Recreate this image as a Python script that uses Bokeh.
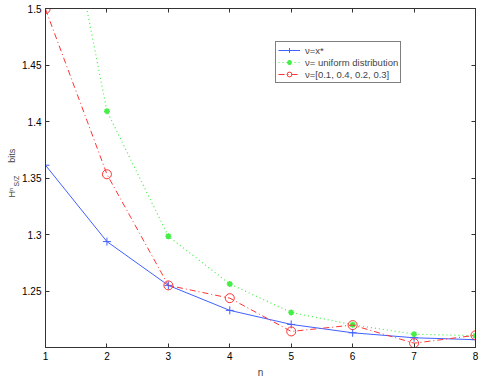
from bokeh.plotting import figure
from bokeh.models import (FixedTicker, LinearAxis, Range1d, Legend, LegendItem, Title)
from bokeh.embed import file_html
from bokeh.resources import INLINE

# ---- data ----
n = [1, 2, 3, 4, 5, 6, 7, 8]
v_xstar = [1.3615, 1.294, 1.2553, 1.2332, 1.2208, 1.2134, 1.2090, 1.2073]
v_uniform = [1.685, 1.4093, 1.2987, 1.2565, 1.2314, 1.2205, 1.2122, 1.2108]
v_fixed = [1.4995, 1.3535, 1.2553, 1.2440, 1.2146, 1.2202, 1.2042, 1.2112]
labels = ["\u03bd=x*", "\u03bd= uniform distribution", "\u03bd=[0.1, 0.4, 0.2, 0.3]"]
y_ticks = [1.25, 1.3, 1.35, 1.4, 1.45, 1.5]
y_tick_labels = {1.25: "1.25", 1.3: "1.3", 1.35: "1.35", 1.4: "1.4", 1.45: "1.45", 1.5: "1.5"}
x_ticks = [1, 2, 3, 4, 5, 6, 7, 8]

FONT = "Liberation Sans"
AX = "#333333"

p = figure(width=485, height=383, output_backend="svg", toolbar_location=None,
           x_range=Range1d(1, 8), y_range=Range1d(1.2004, 1.5),
           min_border_left=45, min_border_right=10, min_border_top=8, min_border_bottom=36,
           x_axis_label="n")
p.grid.visible = False
p.outline_line_color = "#222222"
p.outline_line_width = 1
p.background_fill_color = "white"
p.border_fill_color = "white"

xa = p.below[0]
ya = p.left[0]
xa.ticker = FixedTicker(ticks=x_ticks)
ya.ticker = FixedTicker(ticks=y_ticks)
ya.major_label_overrides = y_tick_labels

top = LinearAxis(ticker=FixedTicker(ticks=x_ticks),
                 major_label_overrides={t: "" for t in x_ticks})
right = LinearAxis(ticker=FixedTicker(ticks=y_ticks),
                   major_label_overrides={t: "" for t in y_ticks})
p.add_layout(top, "above")
p.add_layout(right, "right")

for ax in [xa, ya, top, right]:
    ax.major_tick_in = 4
    ax.major_tick_out = 0
    ax.minor_tick_in = 0
    ax.minor_tick_out = 0
    ax.axis_line_color = AX
    ax.major_tick_line_color = AX
    ax.major_label_text_font = FONT
    ax.major_label_text_color = "black"
    ax.axis_label_text_font = FONT
    ax.axis_label_text_font_style = "normal"
    ax.axis_label_text_font_size = "10px"
    ax.major_label_text_font_size = "10px"
ya.major_label_standoff = 4
xa.major_label_standoff = 4
xa.axis_label_standoff = 4
top.major_label_standoff = 0
right.major_label_standoff = 0

BLUE = "#4060ff"
GREEN = "#44ee44"
RED = "#ff3333"

l1 = p.line(n, v_xstar, line_color=BLUE, line_width=1)
s1 = p.scatter(n, v_xstar, marker="cross", size=8, line_color=BLUE, line_width=1)
l2 = p.line(n, v_uniform, line_color=GREEN, line_width=1.2, line_dash="1 3")
s2 = p.scatter(n, v_uniform, marker="asterisk", size=6, line_color=GREEN, line_width=1.5)
l3 = p.line(n, v_fixed, line_color=RED, line_width=1, line_dash="6 3 1 3")
s3 = p.scatter(n, v_fixed, marker="circle", size=9, line_color=RED, fill_color=None, line_width=1)

legend = Legend(items=[LegendItem(label=labels[0], renderers=[l1, s1]),
                       LegendItem(label=labels[1], renderers=[l2, s2]),
                       LegendItem(label=labels[2], renderers=[l3, s3])],
                location=(230, 264))
legend.label_text_font = FONT
legend.label_text_font_size = "9.5px"
legend.label_height = 12
legend.glyph_height = 12
legend.glyph_width = 22
legend.label_standoff = 5
legend.spacing = 0
legend.padding = 2
legend.margin = 0
legend.border_line_color = "black"
legend.border_line_width = 1
legend.background_fill_alpha = 1
p.add_layout(legend, "center")

# y label: H^n_{S/Z} bits (rotated titles on the left side)
sub = Title(text="S/Z", text_font=FONT, text_font_size="7px", text_font_style="normal",
            align="left", offset=161, standoff=0)
main = Title(text="H\u207f" + "\u00a0" * 10 + "bits", text_font=FONT, text_font_size="9px",
             text_font_style="normal", align="left", offset=150, standoff=-12)
p.add_layout(sub, "left")
p.add_layout(main, "left")

open("out.html", "w").write(file_html(p, INLINE))
